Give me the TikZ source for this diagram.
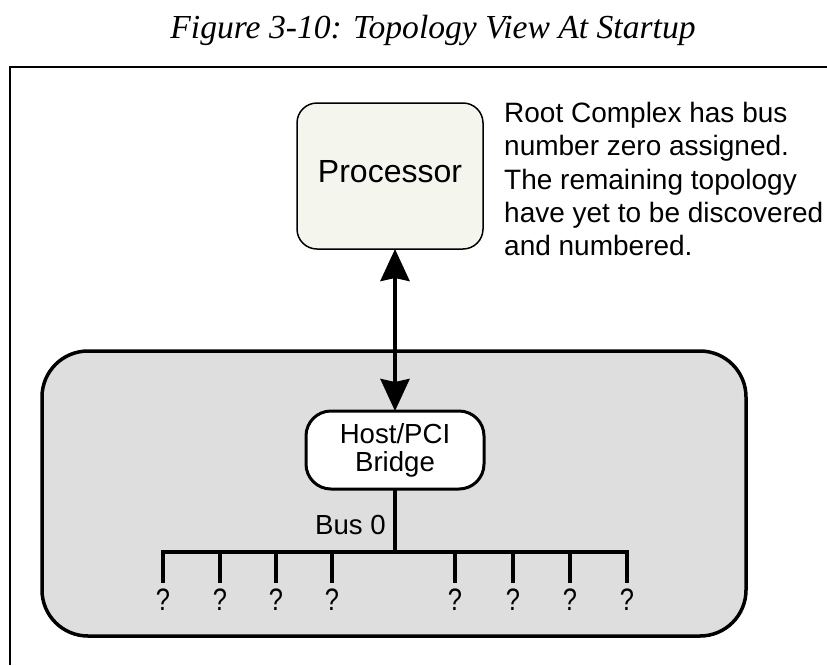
\documentclass[tikz,border=0pt]{standalone}
\usepackage{fontspec}
\setmainfont{Liberation Serif}
\setsansfont{Liberation Sans}
\newfontfamily\narrowq[FakeStretch=0.82]{Liberation Sans}
\usetikzlibrary{arrows.meta}
\definecolor{procfill}{HTML}{F4F6EE}
\definecolor{rcfill}{HTML}{DEDEDE}
\tikzset{
  sans/.style={font=\sffamily\fontsize{28}{33.3}\selectfont},
  busline/.style={line width=3.5pt},
  qmark/.style={font=\narrowq\fontsize{31}{33}\selectfont, anchor=base, inner sep=0pt},
  bigarrow/.style={line width=4pt,
    {Stealth[length=32pt,width=29pt,inset=3pt]}-{Stealth[length=32pt,width=29pt,inset=3pt]}},
}
\begin{document}
\begin{tikzpicture}[x=1pt,y=-1pt]
\useasboundingbox (0,0) rectangle (827,665);
\fill[white] (0,0) rectangle (827,665);
% title
\node[font=\itshape\fontsize{33.6}{38}\selectfont, anchor=base, inner sep=0pt] (title) at (433,38) {Figure 3-10: Topology View At Startup};
% frame
\draw[line width=2pt] (10,665) -- (10,67) -- (827,67);
% root complex
\node[draw, line width=3.5pt, fill=rcfill, rounded corners=46pt, minimum width=704pt, minimum height=285pt,
      anchor=north west, inner sep=0pt, outer sep=0pt] (rc) at (42,351) {};
% processor
\node[draw, line width=1.5pt, fill=procfill, rounded corners=20pt, minimum width=186pt, minimum height=146pt,
      outer sep=0pt, font=\sffamily\fontsize{32}{36}\selectfont, text height=23pt, text depth=10pt] (proc) at (390,176) {Processor};
% note
\node[sans, align=left, anchor=north west, inner sep=0pt] (note) at (504,102)
  {Root Complex has bus\\number zero assigned.\\The remaining topology\\have yet to be discovered\\and numbered.};
% bridge
\node[draw, line width=3pt, fill=white, rounded corners=25pt, minimum width=178pt, minimum height=78pt,
      outer sep=0pt, align=center, font=\sffamily\fontsize{27.6}{28}\selectfont] (bridge) at (395,450) {Host/PCI\\Bridge};
% arrow
\draw[bigarrow] (bridge.north |- proc.south) -- (bridge.north);
% bus
\coordinate (bus) at (395,552);
\draw[busline] (bridge.south) -- (bridge.south |- bus);
\node[font=\sffamily\fontsize{27.6}{30}\selectfont, anchor=base east, inner sep=0pt] (bus0) at (386,534) {Bus 0};
\foreach \i/\x in {1/163,2/220,3/276,4/332,5/455,6/513,7/570,8/627}{
  \coordinate (d\i) at (\x,552);
  \coordinate (e\i) at (\x,583);
  \node[qmark] (q\i) at (\x,610) {?};
}
\draw[busline] (e1) -- (d1) -- (d8) -- (e8);
\foreach \i in {2,...,7}{ \draw[busline] (d\i) -- (e\i); }
\end{tikzpicture}
\end{document}
